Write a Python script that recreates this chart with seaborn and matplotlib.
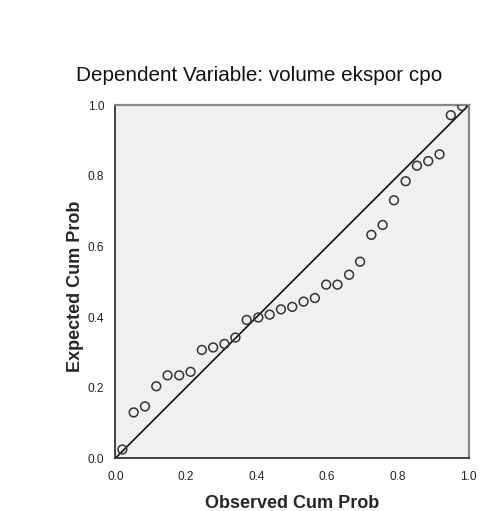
import matplotlib
matplotlib.use("Agg")
import matplotlib.pyplot as plt
import seaborn as sns
import pandas as pd

# Data
observed_cum_prob = [0.020, 0.052, 0.084, 0.116, 0.148, 0.181, 0.213, 0.245, 0.277, 0.309,
                     0.340, 0.372, 0.405, 0.437, 0.469, 0.501, 0.533, 0.565, 0.597, 0.629,
                     0.662, 0.693, 0.725, 0.757, 0.789, 0.822, 0.854, 0.886, 0.918, 0.950, 0.982]
expected_cum_prob = [0.025, 0.130, 0.147, 0.204, 0.235, 0.235, 0.245, 0.307, 0.314, 0.324,
                     0.342, 0.392, 0.399, 0.407, 0.422, 0.429, 0.444, 0.454, 0.492, 0.492,
                     0.520, 0.557, 0.633, 0.661, 0.731, 0.785, 0.829, 0.842, 0.861, 0.972, 0.998]
ref_line_x = [0.0, 1.0]
ref_line_y = [0.0, 1.0]
tick_values = [0.0, 0.2, 0.4, 0.6, 0.8, 1.0]
tick_labels = ["0.0", "0.2", "0.4", "0.6", "0.8", "1.0"]
title_text = "Dependent Variable: volume ekspor cpo"
x_label = "Observed Cum Prob"
y_label = "Expected Cum Prob"

df = pd.DataFrame({"obs": observed_cum_prob, "exp": expected_cum_prob})
line_df = pd.DataFrame({"x": ref_line_x, "y": ref_line_y})

sns.set_style("white")
plt.rcParams["font.family"] = ["Liberation Sans", "DejaVu Sans"]

fig = plt.figure(figsize=(4.94, 5.11), dpi=100)
fig.patch.set_facecolor("white")
ax = fig.add_axes([115.3 / 494, 52.7 / 511, 353.2 / 494, 353.0 / 511])
ax.set_facecolor("#F0F0F0")

sns.lineplot(data=line_df, x="x", y="y", ax=ax, color="#111111", linewidth=1.2, zorder=2)
sns.scatterplot(data=df, x="obs", y="exp", ax=ax, marker="o", s=40,
                facecolor="none", edgecolor="#333333", linewidth=1.1, zorder=3)

ax.set_xlim(0, 1)
ax.set_ylim(0, 1)
ax.set_xticks(tick_values)
ax.set_xticklabels(tick_labels)
ax.set_yticks(tick_values)
ax.set_yticklabels(tick_labels)
ax.tick_params(axis="both", direction="out", length=6, width=1.0, color="#333333",
               labelsize=8.6, labelcolor="#222222", pad=2)
ax.tick_params(axis="x", pad=3)

for side in ["left", "bottom"]:
    ax.spines[side].set_color("#333333")
    ax.spines[side].set_linewidth(1.3)
for side in ["top", "right"]:
    ax.spines[side].set_color("#888888")
    ax.spines[side].set_linewidth(1.6)
    ax.spines[side].set_visible(True)

ax.set_xlabel(x_label, fontsize=13, fontweight="bold", va="center")
ax.set_ylabel(y_label, fontsize=13, fontweight="bold", va="center")
ax.xaxis.set_label_coords((292 - 115.3) / 353.2, (458.3 - 503) / 353.0)
ax.yaxis.set_label_coords((75 - 115.3) / 353.2, (458.3 - 286) / 353.0)

fig.text(259 / 494, 1 - 75.7 / 511, title_text, fontsize=14.9, ha="center", va="center",
         color="#111111")

fig.savefig("out.png", dpi=100, facecolor="white")
